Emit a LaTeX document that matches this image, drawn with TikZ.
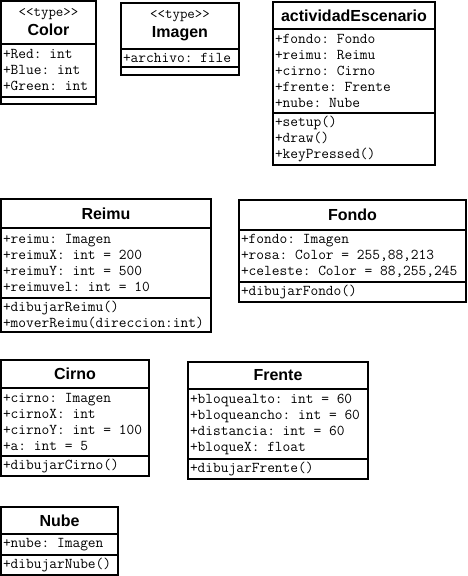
\documentclass[tikz,border=0pt]{standalone}
\usepackage{fontspec}
\setmainfont{Liberation Sans}
\usepackage{tikz}
\usetikzlibrary{positioning}
\tikzset{
  classname/.style={draw, line width=1.6pt, outer sep=0pt, inner sep=2pt, align=center, font=\fontsize{16}{19}\selectfont\bfseries},
  classpart/.style={draw, line width=1.6pt, outer sep=0pt, inner xsep=2pt, inner ysep=2pt, align=flush left, font=\ttfamily\fontsize{15}{16}\selectfont, execute at begin node={\frenchspacing\spaceskip=0pt\xspaceskip=0pt}},
}
\newcommand{\stereo}[1]{{\ttfamily\mdseries\fontsize{14.5}{15}\selectfont\spaceskip=0pt #1}}

\begin{document}
\begin{tikzpicture}[x=1pt, y=-1pt]
        \useasboundingbox (0,0) rectangle (467,576);

        \node (color) [classname, minimum width=95pt, minimum height=43pt, anchor=north west] at (1,1) {\stereo{<<type>>}\\Color};
        \node (colorattr) [classpart, text width=91pt, minimum height=53pt, below=0pt of color] {+Red: int\\+Blue: int\\+Green: int};
        \node (colorops) [classpart, text width=91pt, minimum height=7pt, below=0pt of colorattr] {};

        \node (imagen) [classname, minimum width=118pt, minimum height=46pt, anchor=north west] at (121,3) {\stereo{<<type>>}\\Imagen};
        \node (imagenattr) [classpart, text width=114pt, minimum height=18pt, below=0pt of imagen] {+archivo: file};
        \node (imagenops) [classpart, text width=114pt, minimum height=8pt, below=0pt of imagenattr] {};

        \node (escenario) [classname, minimum width=162pt, minimum height=27pt, anchor=north west] at (273,2) {actividadEscenario};
        \node (escenarioattr) [classpart, text width=158pt, minimum height=84pt, below=0pt of escenario] {+fondo: Fondo\\+reimu: Reimu\\+cirno: Cirno\\+frente: Frente\\+nube: Nube};
        \node (escenarioops) [classpart, text width=158pt, minimum height=52pt, below=0pt of escenarioattr] {+setup()\\+draw()\\+keyPressed()};

        \node (reimu) [classname, minimum width=210pt, minimum height=29pt, anchor=north west] at (1,199) {Reimu};
        \node (reimuattr) [classpart, text width=206pt, minimum height=70pt, below=0pt of reimu] {+reimu: Imagen\\+reimuX: int = 200\\+reimuY: int = 500\\+reimuvel: int = 10};
        \node (reimuops) [classpart, text width=206pt, minimum height=34pt, below=0pt of reimuattr] {+dibujarReimu()\\+moverReimu(direccion:int)};

        \node (fondo) [classname, minimum width=227pt, minimum height=30pt, anchor=north west] at (239,200) {Fondo};
        \node (fondoattr) [classpart, text width=223pt, minimum height=52pt, below=0pt of fondo] {+fondo: Imagen\\+rosa: Color = 255,88,213\\+celeste: Color = 88,255,245};
        \node (fondoops) [classpart, text width=223pt, minimum height=20pt, below=0pt of fondoattr] {+dibujarFondo()};

        \node (cirno) [classname, minimum width=148pt, minimum height=28pt, anchor=north west] at (1,360) {Cirno};
        \node (cirnoattr) [classpart, text width=144pt, minimum height=68pt, below=0pt of cirno] {+cirno: Imagen\\+cirnoX: int\\+cirnoY: int = 100\\+a: int = 5};
        \node (cirnoops) [classpart, text width=144pt, minimum height=20pt, below=0pt of cirnoattr] {+dibujarCirno()};

        \node (frente) [classname, minimum width=180pt, minimum height=27pt, anchor=north west] at (188,362) {Frente};
        \node (frenteattr) [classpart, text width=176pt, minimum height=70pt, below=0pt of frente] {+bloquealto: int = 60\\+bloqueancho: int = 60\\+distancia: int = 60\\+bloqueX: float};
        \node (frenteops) [classpart, text width=176pt, minimum height=20pt, below=0pt of frenteattr] {+dibujarFrente()};

        \node (nube) [classname, minimum width=117pt, minimum height=27pt, anchor=north west] at (1,507) {Nube};
        \node (nubeattr) [classpart, text width=113pt, minimum height=21pt, below=0pt of nube] {+nube: Imagen};
        \node (nubeops) [classpart, text width=113pt, minimum height=20pt, below=0pt of nubeattr] {+dibujarNube()};
    \end{tikzpicture}
\end{document}
